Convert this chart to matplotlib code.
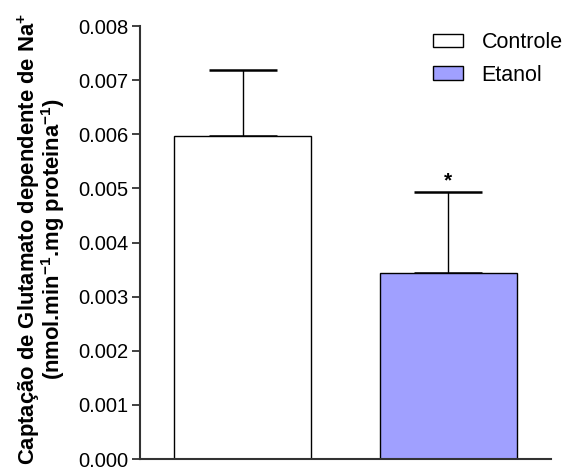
import matplotlib.pyplot as plt
import numpy as np

plt.rcParams['font.family'] = ['Liberation Sans', 'DejaVu Sans']
plt.rcParams['mathtext.fontset'] = 'custom'
plt.rcParams['mathtext.rm'] = 'Liberation Sans'
plt.rcParams['mathtext.bf'] = 'Liberation Sans:bold'

# dados
grupos = ['Controle', 'Etanol']
medias = [0.00597, 0.00344]
erros = [0.00121, 0.00150]
cores = ['white', '#a0a0ff']
yticks = [0.000, 0.001, 0.002, 0.003, 0.004, 0.005, 0.006, 0.007, 0.008]
rotulo_y = ['Captação de Glutamato dependente de Na$^{\\mathbf{+}}$',
            '(nmol.min$^{\\mathbf{-1}}$.mg proteina$^{\\mathbf{-1}}$)']

fig = plt.figure(figsize=(5.64, 4.74), dpi=100)
ax = fig.add_axes([0.2482, 0.0316, 0.7287, 0.9135])

x = np.arange(len(grupos))
largura = 0.665
barras = ax.bar(x, medias, largura, color=cores, edgecolor='black', linewidth=1.0,
                label=grupos, zorder=2)

# barras de erro só para cima
ax.errorbar(x, medias, yerr=[np.zeros(len(erros)), erros], fmt='none', ecolor='black',
            elinewidth=1.0, capsize=24.8, capthick=1.8, zorder=1)

# asterisco no etanol
ax.annotate('*', (x[1], medias[1] + erros[1]), xytext=(0, 1), textcoords='offset points',
            ha='center', va='bottom', fontsize=15, fontweight='bold')

ax.set_xlim(-0.5, 1.5)
ax.set_ylim(0, 0.008)
ax.set_yticks(yticks)
ax.set_yticklabels(['%.3f' % v for v in yticks], fontsize=14.5)
ax.set_xticks([])
ax.tick_params(axis='y', direction='out', length=5.5, width=1.3, color='#333333', pad=3)

for s in ['top', 'right']:
    ax.spines[s].set_visible(False)
for s in ['left', 'bottom']:
    ax.spines[s].set_linewidth(1.5)
    ax.spines[s].set_color('#333333')

# rótulo do eixo y em duas linhas
for px, linha in zip([28.5, 53.5], rotulo_y):
    fig.text(px / 564, 0.496, linha, rotation=90, ha='center', va='center',
             fontsize=15.8, fontweight='bold')

fig.legend(handles=barras, labels=grupos, loc='upper left', frameon=False, fontsize=15.5,
           handlelength=1.4, handleheight=0.6, labelspacing=0.55, handletextpad=0.85,
           borderpad=0, borderaxespad=0, bbox_to_anchor=(433 / 564, 1 - 32 / 474))

fig.savefig('out.png', dpi=100)
